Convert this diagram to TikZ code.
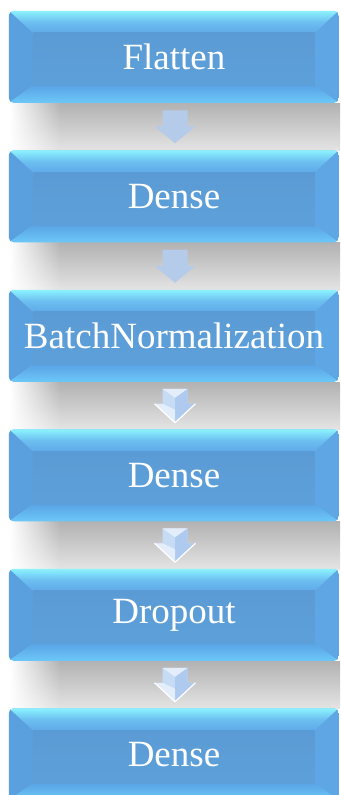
\documentclass[tikz,border=0pt]{standalone}
\usepackage{fontspec}
\newfontfamily\lsfont{Liberation Serif}
\usetikzlibrary{calc,fadings,backgrounds}
\definecolor{face}{HTML}{5B9BD5}
\definecolor{bevtop}{HTML}{8CF2FF}
\definecolor{bevtopB}{HTML}{5FAAEA}
\definecolor{bevleft}{HTML}{5AA0DF}
\definecolor{bevright}{HTML}{5EA6E4}
\definecolor{bevbotA}{HTML}{5AA4E6}
\definecolor{bevbotB}{HTML}{6CC8F8}
\definecolor{arrA}{HTML}{B4CBEA}
\definecolor{arrB}{HTML}{C6DCF5}
\definecolor{arrC}{HTML}{AECAEE}
\definecolor{arrD}{HTML}{E4EEFB}
\definecolor{shadA}{HTML}{B2B2B2}
\definecolor{shadB}{HTML}{E4E4E4}
\tikzfading[name=shadfade, left color=transparent!100, right color=transparent!0]
\tikzset{
  layer/.style={rectangle, minimum width=330pt, minimum height=92pt,
    inner sep=0pt, text=white, font=\lsfont\fontsize{37}{40}\selectfont},
  shadowband/.style={top color=shadA, bottom color=shadB},
  pics/bevelbox/.style={code={
    \begin{scope}
      \clip[rounded corners=5pt] (0,0) rectangle (330,-92);
      \fill[bevbotB] (0,0) rectangle (330,-92);
      \shade[top color=bevtop, bottom color=bevtopB, middle color=bevtopB!70!bevtop]
        (0,0) -- (330,0) -- (306,-22) -- (24,-22) -- cycle;
      \fill[bevleft] (0,0) -- (24,-22) -- (24,-75) -- (0,-92) -- cycle;
      \fill[bevright] (330,0) -- (306,-22) -- (306,-75) -- (330,-92) -- cycle;
      \shade[top color=bevbotA, bottom color=bevbotB]
        (0,-92) -- (24,-75) -- (306,-75) -- (330,-92) -- cycle;
      \shade[top color=face, bottom color=face!88!bevbotB] (24,-22) rectangle (306,-75);
    \end{scope}}},
  pics/plainarrow/.style={code={
    \fill[arrA] (-12.5,16.5) -- (12.5,16.5) -- (12.5,0.5) -- (20.5,0.5) -- (0,-16.5)
      -- (-20.5,0.5) -- (-12.5,0.5) -- cycle;}},
  pics/fancyarrow/.style={code={
    \fill[arrB] (-12.5,17) -- (12.5,17) -- (12.5,2) -- (20.5,2) -- (0,-17)
      -- (-20.5,2) -- (-12.5,2) -- cycle;
    \fill[arrC] (0,8) -- (12.5,17) -- (12.5,2) -- (20.5,2) -- (0,-17) -- cycle;
    \fill[arrD] (-12.5,17) -- (12.5,17) -- (0,8) -- cycle;
    \fill[arrD] (-12.5,2) -- (-20.5,2) -- (0,-17) -- (0,-4) -- cycle;
    \draw[white, line width=1.2pt, line join=round] (-20.5,2) -- (0,-17) -- (20.5,2);}}
}
\begin{document}
\begin{tikzpicture}[x=1pt,y=1pt]
  \clip (0,0) rectangle (340,-795);
  % boxes (text)
  \node[layer] (b1) at (174,-57)    {Flatten};
  \node[layer] (b2) at (174,-196.5) {Dense};
  \node[layer] (b3) at (174,-336)   {BatchNormalization};
  \node[layer] (b4) at (174,-475.5) {Dense};
  \node[layer] (b5) at (174,-615)   {Dropout};
  \node[layer] (b6) at (174,-754.5) {Dense};
  \begin{scope}[on background layer]
    \fill[white] (0,0) rectangle (340,-795);
    % shadows between boxes
    \foreach \t/\b in {103/150.5, 242.5/290, 382/429.5, 521.5/569, 661/708.5}{
      \shade[shadowband] (60,-\t) rectangle (340,-\b);
      \shade[shadowband, path fading=shadfade] (10,-\t) rectangle (60.5,-\b);
    }
    \foreach \n in {b1,b2,b3,b4,b5,b6}{
      \pic at (\n.north west) {bevelbox};
    }
  \end{scope}
  % arrows
  \pic at ($(b1.south)!0.5!(b2.north)+(1,0)$) {plainarrow};
  \pic at ($(b2.south)!0.5!(b3.north)+(1,0)$) {plainarrow};
  \pic at ($(b3.south)!0.5!(b4.north)+(1,0)$) {fancyarrow};
  \pic at ($(b4.south)!0.5!(b5.north)+(1,0)$) {fancyarrow};
  \pic at ($(b5.south)!0.5!(b6.north)+(1,0)$) {fancyarrow};
\end{tikzpicture}
\end{document}
